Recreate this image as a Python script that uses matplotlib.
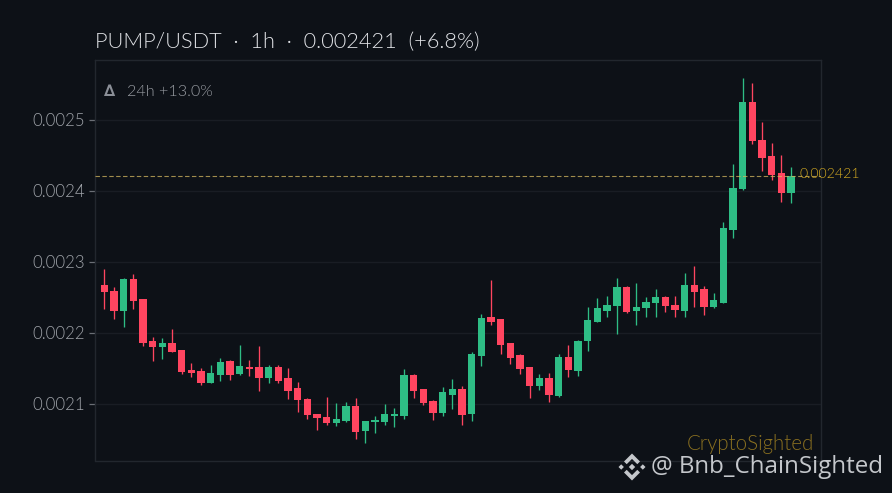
import numpy as np
import matplotlib.pyplot as plt
from matplotlib.patches import Polygon

# prices in millionths of USDT
opens = [2267, 2258, 2230, 2275, 2247, 2188, 2180, 2185, 2175, 2147, 2146, 2129,
         2140, 2160, 2142, 2152, 2152, 2136, 2152, 2136, 2122, 2107, 2085, 2081,
         2073, 2076, 2097, 2062, 2074, 2074, 2083, 2083, 2140, 2121, 2104, 2087,
         2112, 2121, 2085, 2167, 2222, 2219, 2185, 2168, 2152, 2125, 2136, 2111,
         2166, 2146, 2188, 2215, 2231, 2238, 2264, 2231, 2234, 2241, 2250, 2239,
         2231, 2267, 2262, 2236, 2242, 2345, 2402, 2524, 2471, 2449, 2425, 2397]
highs = [2289, 2264, 2277, 2282, 2247, 2194, 2192, 2205, 2176, 2157, 2150, 2154,
         2164, 2161, 2182, 2161, 2181, 2154, 2154, 2150, 2130, 2108, 2085, 2109,
         2101, 2102, 2108, 2076, 2083, 2100, 2094, 2149, 2142, 2121, 2105, 2123,
         2135, 2125, 2173, 2226, 2274, 2219, 2185, 2170, 2152, 2142, 2143, 2170,
         2182, 2189, 2236, 2249, 2252, 2277, 2266, 2270, 2250, 2262, 2252, 2252,
         2284, 2294, 2266, 2256, 2356, 2437, 2558, 2551, 2496, 2467, 2450, 2433]
lows = [2233, 2219, 2208, 2233, 2181, 2160, 2163, 2172, 2142, 2137, 2126, 2129,
        2132, 2133, 2140, 2139, 2118, 2129, 2129, 2107, 2088, 2078, 2063, 2070,
        2069, 2074, 2050, 2045, 2059, 2070, 2067, 2078, 2108, 2098, 2077, 2083,
        2093, 2070, 2076, 2153, 2211, 2170, 2156, 2142, 2108, 2119, 2102, 2109,
        2137, 2139, 2174, 2215, 2222, 2198, 2227, 2210, 2222, 2222, 2229, 2222,
        2222, 2236, 2225, 2235, 2242, 2333, 2401, 2465, 2427, 2415, 2384, 2383]
closes = [2257, 2230, 2275, 2244, 2185, 2180, 2185, 2173, 2145, 2143, 2129, 2143,
          2159, 2140, 2153, 2149, 2136, 2152, 2132, 2118, 2105, 2084, 2080, 2073,
          2078, 2097, 2060, 2076, 2077, 2085, 2085, 2140, 2118, 2101, 2087, 2116,
          2121, 2084, 2170, 2220, 2215, 2182, 2164, 2149, 2125, 2136, 2112, 2166,
          2147, 2188, 2218, 2234, 2239, 2264, 2229, 2236, 2243, 2250, 2238, 2232,
          2267, 2257, 2236, 2246, 2347, 2404, 2524, 2470, 2446, 2422, 2397, 2421]
y_ticks = [0.0021, 0.0022, 0.0023, 0.0024, 0.0025]
last_price = 0.002421

BG = '#0d1117'
UP = '#2ebd85'
DOWN = '#ff4560'
GOLD = '#d9ae22'
FONT = 'Lato'

opens = np.array(opens) * 1e-6
highs = np.array(highs) * 1e-6
lows = np.array(lows) * 1e-6
closes = np.array(closes) * 1e-6
x = np.arange(len(opens))
colors = [UP if c >= o else DOWN for o, c in zip(opens, closes)]

W, H = 892, 493
fig = plt.figure(figsize=(W / 100, H / 100), dpi=100, facecolor=BG)
ax = fig.add_axes([95 / W, 1 - 460.5 / H, 725.5 / W, 400.5 / H], facecolor=BG)

ax.grid(axis='y', color='#191d24', lw=1)
ax.set_axisbelow(True)
ax.vlines(x, lows, highs, colors=colors, lw=0.95, zorder=2)
ax.bar(x, np.abs(closes - opens), bottom=np.minimum(opens, closes), width=0.76,
       color=colors, zorder=3)
ax.axhline(last_price, color='#d4b860', lw=0.8, ls=(0, (4, 2.2)), alpha=0.75, zorder=4)

ax.set_xlim(-0.96, 74.06)
ax.set_ylim(0.0020199, 0.0025838)
ax.set_xticks([])
ax.set_yticks(y_ticks)
ax.set_yticklabels(['%.4f' % v for v in y_ticks], fontfamily=FONT, fontsize=12.1,
                   fontweight=300, color='#a0a4aa')
ax.tick_params(axis='y', length=4, width=0.9, color='#6b6f76', pad=3)
for s in ax.spines.values():
    s.set_color('#22272e')
    s.set_linewidth(1)

ax.text(799, H - 174, '0.002421', transform=None, color=GOLD, fontsize=10.2, family=FONT,
        fontweight=300, va='center', ha='left', zorder=6)

fig.text(95 / W, 1 - 42 / H, 'PUMP/USDT  ·  1h  ·  0.002421  (+6.8%)', color='#e2e4e8',
         fontsize=15.7, family=FONT, fontweight=300, va='center', ha='left')
fig.text(104.5 / W, 1 - 92 / H, '∆', color='#8b8f97', fontsize=11.5, family='DejaVu Sans',
         fontweight='bold', va='center', ha='left')
fig.text(127 / W, 1 - 92 / H, '24h +13.0%', color='#989ca2', fontsize=11.6, family=FONT,
         fontweight=300, va='center', ha='left')
fig.text(687 / W, 1 - 444.5 / H, 'CryptoSighted', color='#8a7020', fontsize=14.8, family=FONT,
         fontweight=300, va='center', ha='left')
fig.text(651 / W, 1 - 467 / H, '@ Bnb_ChainSighted', color='#c4c7cb', fontsize=17.35, family='Open Sans',
         va='center', ha='left')


# binance style logo, centred at (632, 467) in pixels
def logo_part(points):
    pts = [(632 + px, H - 467 - py) for px, py in points]
    fig.add_artist(Polygon(pts, closed=True, transform=None, fc='#c4c7cb', ec='none'))


logo_part([(0, -3.2), (3.2, 0), (0, 3.2), (-3.2, 0)])
logo_part([(-13.5, 0), (-10.8, -2.7), (-8.1, 0), (-10.8, 2.7)])
logo_part([(13.5, 0), (10.8, -2.7), (8.1, 0), (10.8, 2.7)])
logo_part([(0, -13.5), (8, -5.5), (5.3, -2.8), (0, -8.1), (-5.3, -2.8), (-8, -5.5)])
logo_part([(0, 13.5), (8, 5.5), (5.3, 2.8), (0, 8.1), (-5.3, 2.8), (-8, 5.5)])

fig.savefig('out.png', dpi=100, facecolor=BG)
